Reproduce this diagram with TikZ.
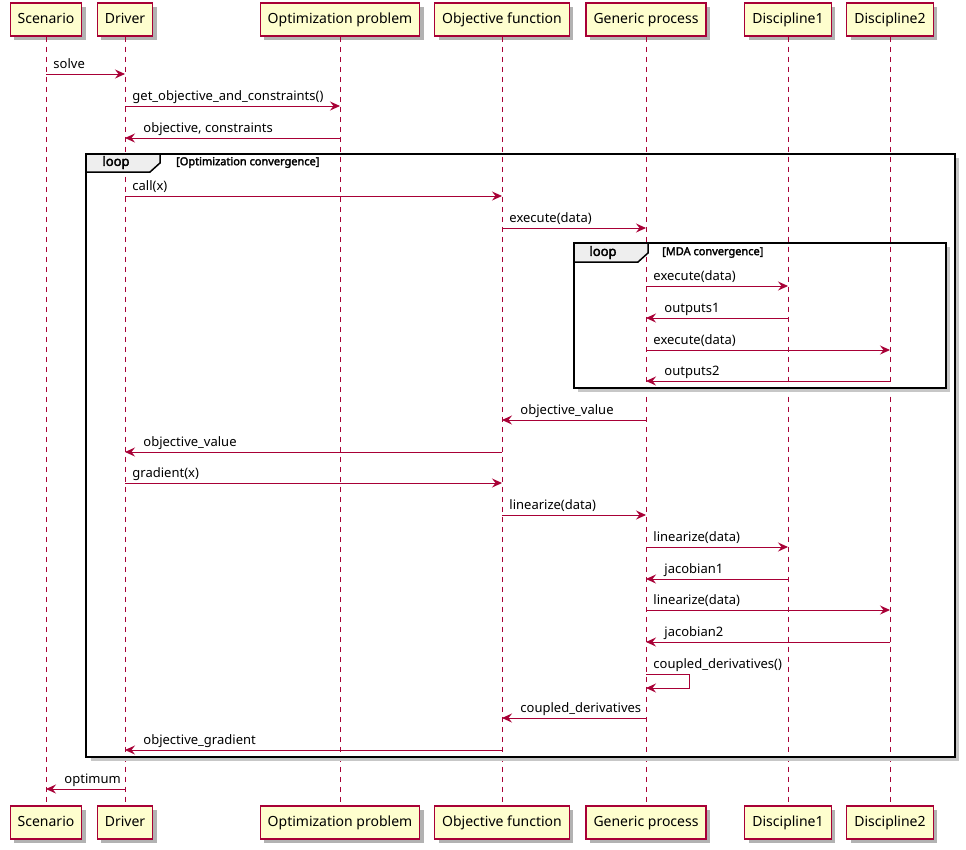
\documentclass[tikz,border=0pt]{standalone}
\usepackage{fontspec}
\setmainfont{Noto Sans}[AutoFakeBold=2.5]
\usepackage{xcolor}
\usetikzlibrary{arrows.meta, shadows}

\definecolor{umlred}{HTML}{A80036}
\definecolor{umlfill}{HTML}{FEFECE}
\definecolor{tabgray}{HTML}{EEEEEE}

\begin{document}
\begin{tikzpicture}[
        x=1pt, y=-1pt,
        every node/.style={font=\fontsize{13}{15}\selectfont},
        actor/.style={draw=umlred, line width=1.2pt, fill=umlfill, minimum height=33pt, inner xsep=7.5pt,
            text height=10.5pt, text depth=3pt, font=\fontsize{14}{16}\selectfont,
            drop shadow={shadow xshift=4pt, shadow yshift=-4pt, opacity=0.3, fill=black}},
        life/.style={umlred, line width=0.8pt, dash pattern=on 5pt off 5pt},
        msg/.style={-{Stealth[length=10pt, width=9pt, inset=3.5pt]}, umlred, line width=0.9pt},
        rlbl/.style={pos=0, anchor=base west, xshift=7pt, yshift=6pt, inner sep=0pt, text=black},
        llbl/.style={pos=1, anchor=base west, xshift=18pt, yshift=6pt, inner sep=0pt, text=black},
        frame/.style={draw, line width=2pt},
        frameshade/.style={black!22, line width=3pt},
        tab/.style={draw, line width=1.5pt, fill=tabgray},
        tabtext/.style={font=\fontsize{13}{15}\selectfont\bfseries},
        guard/.style={anchor=west, inner sep=0pt, font=\fontsize{11}{13}\selectfont\bfseries}
    ]
    \useasboundingbox (0,0) rectangle (966,849);

    \node[actor] (scen) at (46,19.5) {Scenario};
    \node[actor] (drv) at (125,19.5) {Driver};
    \node[actor] (optp) at (340,19.5) {Optimization problem};
    \node[actor] (objf) at (502,19.5) {Objective function};
    \node[actor] (gproc) at (646,19.5) {Generic process};
    \node[actor] (disc1) at (788,19.5) {Discipline1};
    \node[actor] (disc2) at (890,19.5) {Discipline2};

    \node[actor] (scenB) at (46,822.5) {Scenario};
    \node[actor] (drvB) at (125,822.5) {Driver};
    \node[actor] (optpB) at (340,822.5) {Optimization problem};
    \node[actor] (objfB) at (502,822.5) {Objective function};
    \node[actor] (gprocB) at (646,822.5) {Generic process};
    \node[actor] (disc1B) at (788,822.5) {Discipline1};
    \node[actor] (disc2B) at (890,822.5) {Discipline2};

    \foreach \p in {scen, drv, optp, objf, gproc, disc1, disc2}
        \draw[life] (\p.south) -- (\p B.north);

    % optimization loop
    \draw[frameshade] (91,759.5) -- (957.5,759.5) -- (957.5,158);
    \draw[frame] (86,154) rectangle (955,757);
    \draw[tab] (86,154) -- (160,154) -- (160,163) -- (150,172) -- (86,172) -- cycle;
    \node[tabtext] (loopA) at (116,162.5) {loop};
    \node[guard] (guardA) at (176,162.5) {[Optimization convergence]};

    % MDA loop
    \draw[frameshade] (578,390.5) -- (948.5,390.5) -- (948.5,247);
    \draw[frame] (574,243) rectangle (946,388);
    \draw[tab] (574,243) -- (648,243) -- (648,253) -- (638,262) -- (574,262) -- cycle;
    \node[tabtext] (loopB) at (603,252.5) {loop};
    \node[guard] (guardB) at (662,252.5) {[MDA convergence]};

    \draw[msg] (scen |- 0,74) -- node[rlbl]{solve} (drv |- 0,74);
    \draw[msg] (drv |- 0,106) -- node[rlbl]{get\_objective\_and\_constraints()} (optp |- 0,106);
    \draw[msg] (optp |- 0,138) -- node[llbl]{objective, constraints} (drv |- 0,138);
    \draw[msg] (drv |- 0,196) -- node[rlbl]{call(x)} (objf |- 0,196);
    \draw[msg] (objf |- 0,228) -- node[rlbl]{execute(data)} (gproc |- 0,228);
    \draw[msg] (gproc |- 0,286) -- node[rlbl]{execute(data)} (disc1 |- 0,286);
    \draw[msg] (disc1 |- 0,318) -- node[llbl]{outputs1} (gproc |- 0,318);
    \draw[msg] (gproc |- 0,350) -- node[rlbl]{execute(data)} (disc2 |- 0,350);
    \draw[msg] (disc2 |- 0,381) -- node[llbl]{outputs2} (gproc |- 0,381);
    \draw[msg] (gproc |- 0,420) -- node[llbl]{objective\_value} (objf |- 0,420);
    \draw[msg] (objf |- 0,452) -- node[llbl]{objective\_value} (drv |- 0,452);
    \draw[msg] (drv |- 0,483) -- node[rlbl]{gradient(x)} (objf |- 0,483);
    \draw[msg] (objf |- 0,515) -- node[rlbl]{linearize(data)} (gproc |- 0,515);
    \draw[msg] (gproc |- 0,547) -- node[rlbl]{linearize(data)} (disc1 |- 0,547);
    \draw[msg] (disc1 |- 0,579) -- node[llbl]{jacobian1} (gproc |- 0,579);
    \draw[msg] (gproc |- 0,610) -- node[rlbl]{linearize(data)} (disc2 |- 0,610);
    \draw[msg] (disc2 |- 0,642) -- node[llbl]{jacobian2} (gproc |- 0,642);
    \draw[msg] (gproc |- 0,674) -- node[rlbl]{coupled\_derivatives()} ++(43,0) -- ++(0,14) -- (gproc |- 0,688);
    \draw[msg] (gproc |- 0,718) -- node[llbl]{coupled\_derivatives} (objf |- 0,718);
    \draw[msg] (objf |- 0,750) -- node[llbl]{objective\_gradient} (drv |- 0,750);
    \draw[msg] (drv |- 0,789) -- node[llbl]{optimum} (scen |- 0,789);
\end{tikzpicture}
\end{document}
